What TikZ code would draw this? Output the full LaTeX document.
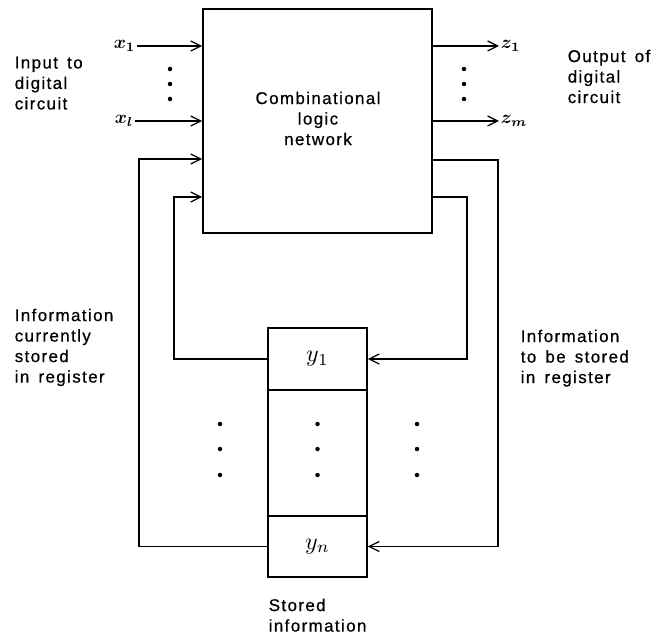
\documentclass[tikz,border=0pt]{standalone}
\usepackage{fontspec}
\setmainfont[LetterSpace=8,WordSpace=1.5,FakeBold=0.6]{Liberation Sans}
\usetikzlibrary{arrows.meta}
\newcommand{\lgmath}[1]{\scalebox{1.85}{\boldmath$#1$}}
\newcommand{\regmath}[1]{\scalebox{2.4}{$#1$}}
\begin{document}
\begin{tikzpicture}[x=1pt,y=-1pt,line width=1.5pt,
  lbl/.style={font=\fontsize{17}{20.5}\selectfont,align=left,inner sep=0pt,anchor=north west},
  math/.style={inner sep=1pt},
  arr/.style={-{Straight Barb[length=10pt,width=10pt,line width=1.3pt]}},
  dotn/.style={circle,fill,inner sep=0pt,minimum size=4.5pt},
  box/.style={draw,inner sep=0pt,line width=1.6pt}]
\useasboundingbox (0,0) rectangle (659,636);

% main network
\node[box,minimum width=229pt,minimum height=224pt] (net) at (317.5,121) {};
\node[font=\fontsize{17}{20.5}\selectfont,align=center,inner sep=0pt,anchor=north] (nettxt) at (318,91) {Combinational\\logic\\network};

% register
\node[box,minimum width=99pt,minimum height=62pt] (r1) at (317.5,359) {\regmath{y_1}};
\node[box,minimum width=99pt,minimum height=126pt] (rm) at (317.5,453) {};
\node[box,minimum width=99pt,minimum height=61pt] (rn) at (317.5,546.5) {\regmath{y_n}};

% inputs
\node[math,anchor=east] (x1) at (137,46) {\lgmath{x_1}};
\node[math,anchor=east] (xl) at (135,121) {\lgmath{x_l}};
\draw[arr] (x1.east) -- (net.west |- x1.east);
\draw[arr] (xl.east) -- (net.west |- xl.east);

% outputs
\node[math,anchor=west] (z1) at (499,46) {\lgmath{z_1}};
\node[math,anchor=west] (zm) at (499,121) {\lgmath{z_m}};
\draw[arr] (net.east |- z1.west) -- (z1.west);
\draw[arr] (net.east |- zm.west) -- (zm.west);

% feedback paths
\coordinate (fo) at (139,159);
\coordinate (fi) at (174,197);
\coordinate (go) at (498,160);
\coordinate (gi) at (467,197);
\draw[arr] (rn.west) -| (fo) -- (fo -| net.west);
\draw[arr] (r1.west) -| (fi) -- (fi -| net.west);
\draw[arr] (go -| net.east) -- (go) |- (rn.east);
\draw[arr] (gi -| net.east) -- (gi) |- (r1.east);

% dots
\foreach \y [count=\i] in {69,84,99} {
  \node[dotn] (dl\i) at (170,\y) {};
  \node[dotn] (dr\i) at (464,\y) {};
}
\foreach \y [count=\i] in {424,449,475} {
  \node[dotn] (da\i) at (220,\y) {};
  \node[dotn] (db\i) at (317.5,\y) {};
  \node[dotn] (dc\i) at (417,\y) {};
}

% labels
\node[lbl] (inlbl) at (14,56) {Input to\\digital\\circuit};
\node[lbl] (outlbl) at (567,49) {Output of\\digital\\circuit};
\node[lbl] (curlbl) at (14,308) {Information\\currently\\stored\\in register};
\node[lbl] (tbslbl) at (520,329) {Information\\to be stored\\in register};
\node[lbl] (stlbl) at (268,598) {Stored\\information};
\end{tikzpicture}
\end{document}
